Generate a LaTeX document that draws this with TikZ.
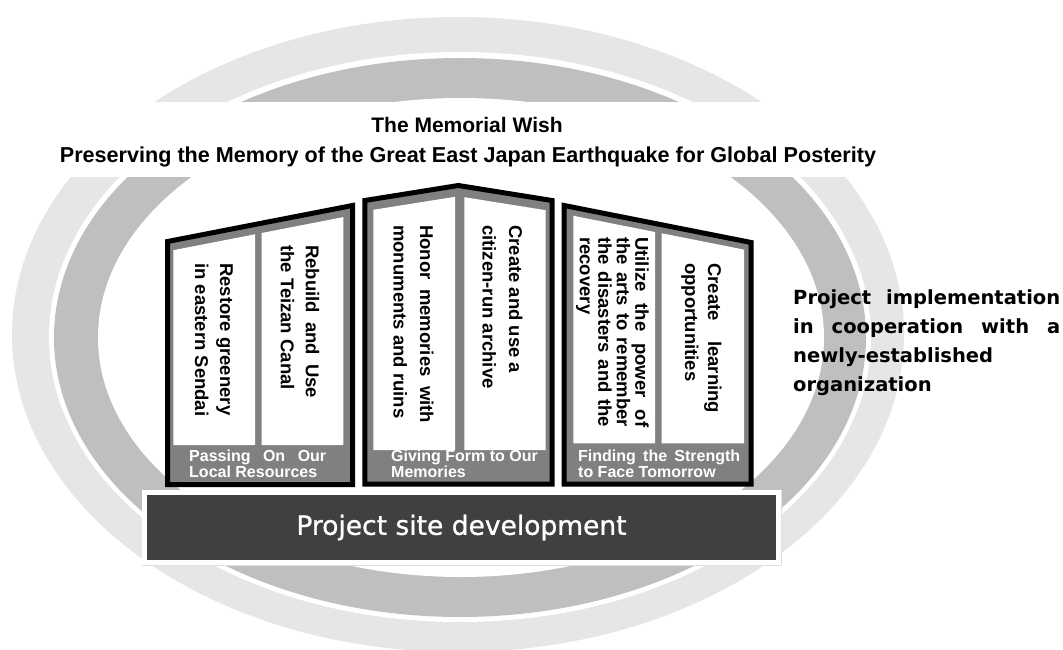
\documentclass[tikz,border=0pt]{standalone}
\usepackage{fontspec}
\setmainfont{Liberation Sans}
\newfontfamily\widesans{DejaVu Sans}
\newfontfamily\widesansmid{DejaVu Sans}[FakeBold=1]
\definecolor{lightRing}{RGB}{230, 230, 230}
\definecolor{darkRing} {RGB}{191, 191, 191}
\definecolor{midGray}  {RGB}{128, 128, 128}
\definecolor{darkBase} {RGB}{64,   64,  64}
\newcommand\spreadline[2]{\makebox[#1pt][s]{#2}}

\tikzset{
  pillar/.style={fill=midGray, draw=black, line width=5pt, line join=miter},
  panel/.style={fill=white},
  pillartext/.style={rotate=-90, anchor=west, align=left, inner sep=0pt,
    font=\bfseries\fontsize{18.5}{#1}\selectfont},
  pillartext/.default=25,
  capline/.style={anchor=north west, align=left, inner sep=0pt, text=white,
    font=\bfseries\fontsize{16}{15.5}\selectfont},
  headline/.style={inner sep=0pt, font=\bfseries\fontsize{#1}{25}\selectfont},
  headline/.default=21,
  sitebox/.style={fill=darkBase, draw=white, line width=5pt, text=white,
    minimum width=634pt, minimum height=70pt,
    preaction={draw=black!12, line width=6pt},
    font=\widesansmid\fontsize{26.5}{30}\selectfont},
  sidenote/.style={anchor=north west, align=left, inner sep=0pt,
    font=\widesans\bfseries\fontsize{19.5}{29}\selectfont}
}

\begin{document}
\begin{tikzpicture}[x=1pt, y=-1pt]
  \useasboundingbox (0,0) rectangle (1063,650);

  % rings
  \fill[lightRing] (458,334.5) ellipse (446 and 317.5);
  \fill[white]     (460,337)   ellipse (411 and 285);
  \fill[darkRing]  (460,337.5) ellipse (406 and 279.5);
  \fill[white]     (461,337.5) ellipse (363 and 239.5);
  \fill[white] (0,102) rectangle (1063,177);

  \node[headline] (wish) at (467,125) {The Memorial Wish};
  \node[headline=21.6] (posterity) at (468,157)
    {Preserving the Memory of the Great East Japan Earthquake for Global Posterity};

  % left pillar
  \draw[pillar] (167.5,241.5) -- (352.5,205.5) -- (352.5,484.5) -- (167.5,484.5) -- cycle;
  \fill[panel] (173.3,250.2) -- (255,234.3) -- (255,445) -- (173.3,445) -- cycle;
  \fill[panel] (261.7,233.0) -- (343.3,217.1) -- (343.3,445) -- (261.7,445) -- cycle;

  % middle pillar
  \draw[pillar] (364.8,200.5) -- (458.3,185.5) -- (552,200.5) -- (552,484) -- (364.8,484) -- cycle;
  \fill[panel] (373.3,209.8) -- (455,196.8) -- (455,450) -- (373.3,450) -- cycle;
  \fill[panel] (464.3,197.2) -- (545.7,210.2) -- (545.7,450) -- (464.3,450) -- cycle;

  % right pillar
  \draw[pillar] (564.2,205.5) -- (751.2,242.5) -- (751.2,484.2) -- (564.2,484.2) -- cycle;
  \fill[panel] (573.3,215.8) -- (655,232) -- (655,443.3) -- (573.3,443.3) -- cycle;
  \fill[panel] (661.7,233.3) -- (744,249.6) -- (744,443.3) -- (661.7,443.3) -- cycle;

  \node[pillartext] (greenery) at (214,263) {Restore greenery\\in eastern Sendai};
  \node[pillartext] (canal) at (300,245) {\spreadline{153}{Rebuild and Use}\\the Teizan Canal};
  \node[pillartext=26.5] (monuments) at (413.5,225)
    {\spreadline{198}{Honor memories with}\\monuments and ruins};
  \node[pillartext=26.5] (archive) at (502.5,225) {Create and use a\\citizen-run archive};
  \node[pillartext=18.5] (arts) at (612.5,237)
    {\spreadline{190}{Utilize the power of}\\\spreadline{190}{the arts to remember}\\
     \spreadline{190}{the disasters and the}\\recovery};
  \node[pillartext=23] (learning) at (701.5,263) {\spreadline{150}{Create learning}\\opportunities};

  \node[capline] (resources) at (189,450) {\spreadline{137}{Passing On Our}\\Local Resources};
  \node[capline] (memories) at (391,450) {Giving Form to Our\\Memories};
  \node[capline] (tomorrow) at (578,450) {\spreadline{162}{Finding the Strength}\\to Face Tomorrow};

  \node[sitebox] (site) at (461.5,527.5) {Project site development};

  \node[sidenote] (cooperation) at (793,289)
    {\spreadline{267}{Project implementation}\\\spreadline{267}{in cooperation with a}\\
     newly-established\\organization};
\end{tikzpicture}
\end{document}
